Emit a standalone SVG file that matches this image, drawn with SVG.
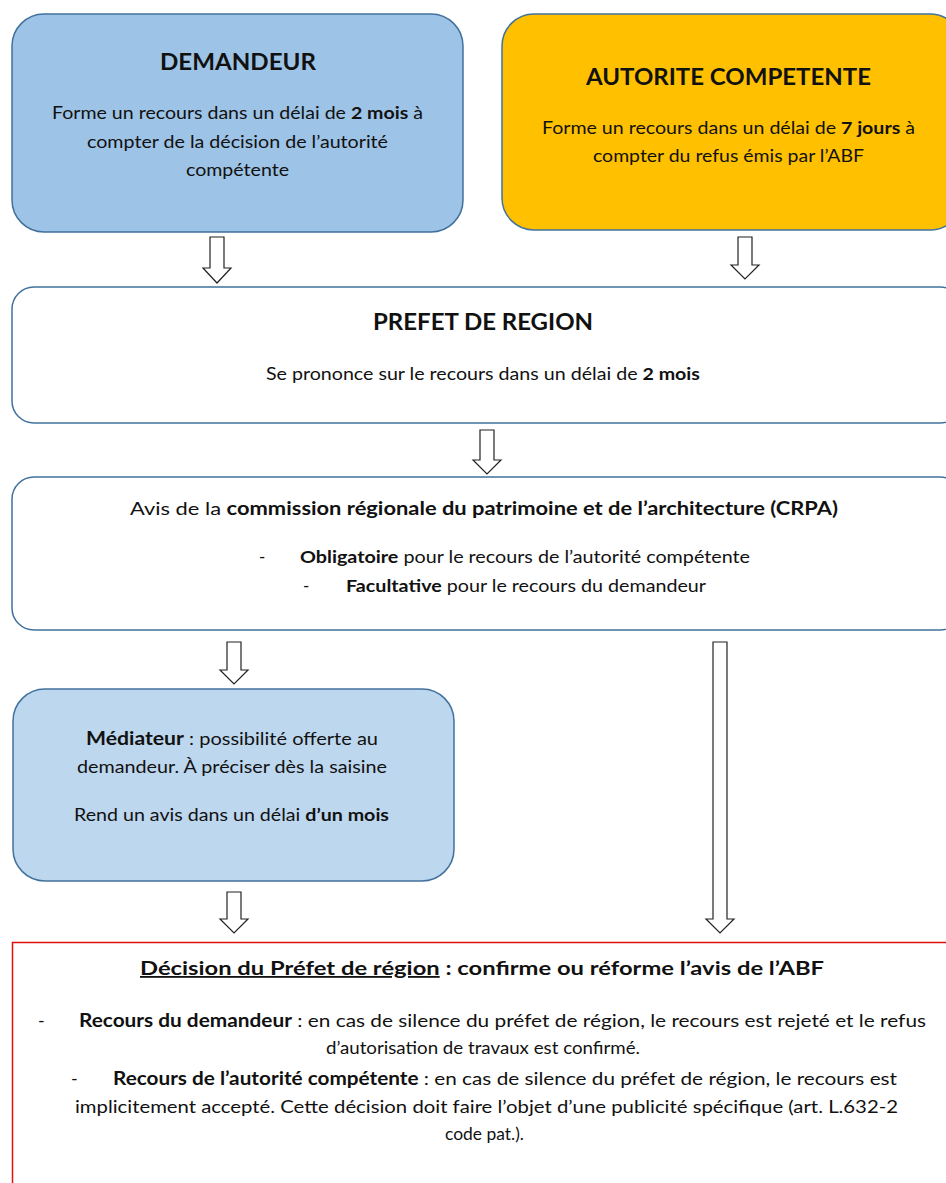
<svg xmlns="http://www.w3.org/2000/svg" width="946" height="1183" viewBox="0 0 946 1183">
<style>
  .box { stroke: #41719C; stroke-width: 1.5; }
  .t { font-family: Lato, "Open Sans", "Liberation Sans", sans-serif; fill: #111; }
  .b { font-weight: bold; }
  .arrow { fill: #fff; stroke: #222; stroke-width: 1.2; stroke-linejoin: miter; }
</style>
<rect width="946" height="1183" fill="#fff"/>

<g id="demandeur">
  <rect class="box" x="12" y="14" width="451" height="218" rx="32" fill="#9DC3E6"/>
  <text class="t b" x="160" y="70" font-size="22" textLength="156" lengthAdjust="spacingAndGlyphs">DEMANDEUR</text>
  <text class="t" x="52" y="119" font-size="17" textLength="371" lengthAdjust="spacingAndGlyphs">Forme un recours dans un délai de <tspan class="b">2 mois</tspan> à</text>
  <text class="t" x="87" y="148" font-size="17" textLength="301" lengthAdjust="spacingAndGlyphs">compter de la décision de l’autorité</text>
  <text class="t" x="186" y="176" font-size="17" textLength="103" lengthAdjust="spacingAndGlyphs">compétente</text>
</g>

<g id="autorite">
  <rect class="box" x="502" y="14" width="460" height="216" rx="32" fill="#FFC000"/>
  <text class="t b" x="586" y="85" font-size="23" textLength="285" lengthAdjust="spacingAndGlyphs">AUTORITE COMPETENTE</text>
  <text class="t" x="542" y="134" font-size="17" textLength="373" lengthAdjust="spacingAndGlyphs">Forme un recours dans un délai de <tspan class="b">7 jours</tspan> à</text>
  <text class="t" x="593" y="162" font-size="17" textLength="271" lengthAdjust="spacingAndGlyphs">compter du refus émis par l’ABF</text>
</g>

<g id="prefet">
  <rect class="box" x="12" y="287" width="950" height="136" rx="22" fill="#fff"/>
  <text class="t b" x="373" y="330" font-size="23" textLength="220" lengthAdjust="spacingAndGlyphs">PREFET DE REGION</text>
  <text class="t" x="266" y="380" font-size="17" textLength="434" lengthAdjust="spacingAndGlyphs">Se prononce sur le recours dans un délai de <tspan class="b">2 mois</tspan></text>
</g>

<g id="crpa">
  <rect class="box" x="12" y="477" width="950" height="153" rx="22" fill="#fff"/>
  <text class="t" x="130" y="515" font-size="18" textLength="708" lengthAdjust="spacingAndGlyphs">Avis de la <tspan class="b">commission régionale du patrimoine et de l’architecture (CRPA)</tspan></text>
  <text class="t" x="259" y="563" font-size="17">-</text>
  <text class="t" x="300" y="563" font-size="17" textLength="450" lengthAdjust="spacingAndGlyphs"><tspan class="b">Obligatoire</tspan> pour le recours de l’autorité compétente</text>
  <text class="t" x="303" y="592" font-size="17">-</text>
  <text class="t" x="346" y="592" font-size="17" textLength="360" lengthAdjust="spacingAndGlyphs"><tspan class="b">Facultative</tspan> pour le recours du demandeur</text>
</g>

<g id="mediateur">
  <rect class="box" x="13" y="689" width="441" height="192" rx="32" fill="#BDD7EE"/>
  <text class="t" x="86" y="745" font-size="17" textLength="292" lengthAdjust="spacingAndGlyphs"><tspan class="b" font-size="18">Médiateur</tspan> : possibilité offerte au</text>
  <text class="t" x="77" y="773" font-size="17" textLength="310" lengthAdjust="spacingAndGlyphs">demandeur. À préciser dès la saisine</text>
  <text class="t" x="74" y="821" font-size="17" textLength="315" lengthAdjust="spacingAndGlyphs">Rend un avis dans un délai <tspan class="b">d’un mois</tspan></text>
</g>

<g id="decision">
  <rect x="12.5" y="942.5" width="960" height="260" fill="#fff" stroke="#E01010" stroke-width="1.5"/>
  <text class="t b" x="140" y="975" font-size="18" textLength="684" lengthAdjust="spacingAndGlyphs"><tspan text-decoration="underline">Décision du Préfet de région</tspan> : confirme ou réforme l’avis de l’ABF</text>
  <text class="t" x="38" y="1027" font-size="18">-</text>
  <text class="t" x="79" y="1027" font-size="18" textLength="847" lengthAdjust="spacingAndGlyphs"><tspan class="b">Recours du demandeur</tspan> : en cas de silence du préfet de région, le recours est rejeté et le refus</text>
  <text class="t" x="326" y="1054" font-size="18" textLength="314" lengthAdjust="spacingAndGlyphs">d’autorisation de travaux est confirmé.</text>
  <text class="t" x="71" y="1085" font-size="18">-</text>
  <text class="t" x="113" y="1085" font-size="18" textLength="784" lengthAdjust="spacingAndGlyphs"><tspan class="b">Recours de l’autorité compétente</tspan> : en cas de silence du préfet de région, le recours est</text>
  <text class="t" x="75" y="1113" font-size="18" textLength="823" lengthAdjust="spacingAndGlyphs">implicitement accepté. Cette décision doit faire l’objet d’une publicité spécifique (art. L.632-2</text>
  <text class="t" x="445" y="1140" font-size="18" textLength="79" lengthAdjust="spacingAndGlyphs">code pat.).</text>
</g>

<g id="connectors">
  <path class="arrow" d="M210,237 H224 V268 H231 L217,283 L203,268 H210 Z"/>
  <path class="arrow" d="M738,237 H752 V265 H759 L745,279 L731,265 H738 Z"/>
  <path class="arrow" d="M480,430 H494 V460 H501 L487,474 L473,460 H480 Z"/>
  <path class="arrow" d="M227,642 H241 V670 H248 L234,684 L220,670 H227 Z"/>
  <path class="arrow" d="M227,892 H241 V919 H248 L234,933 L220,919 H227 Z"/>
  <path class="arrow" d="M713,642 H727 V919 H734 L720,933 L706,919 H713 Z"/>
</g>
</svg>
